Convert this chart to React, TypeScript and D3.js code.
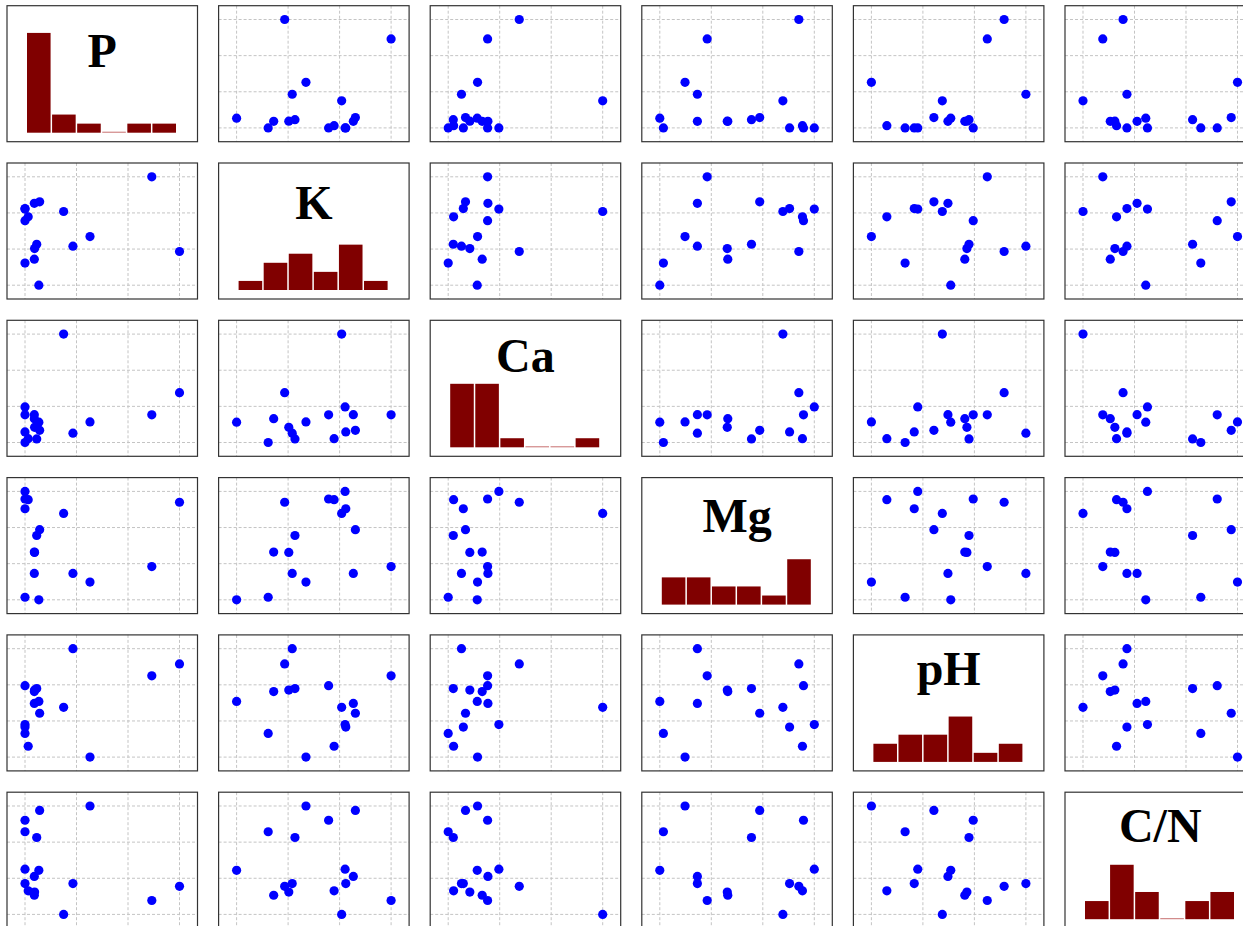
import React, { useEffect, useRef } from 'react';
import * as d3 from 'd3';

// soil samples, one entry per sample (16 samples)
const names = ['P', 'K', 'Ca', 'Mg', 'pH', 'C/N'];
const P = [62.0, 51.6, 28.4, 22.0, 18.5, 9.2, 7.5, 4.0, 7.6, 8.4, 4.0, 5.2, 4.0, 4.0, 7.5, 9.5];
const K = [155, 310, 186, 166, 238, 85, 139, 131, 161, 170, 219, 227, 244, 243, 255, 258];
const Ca = [2464, 1767, 1546, 1192, 4300, 1539, 1648, 900, 1376, 1012, 1767, 1019, 1233, 2015, 1774, 1281];
const Mg = [390, 212, 169, 193, 359, 120, 252, 127, 251, 298, 399, 397, 372, 420, 193, 314];
const pH = [7.29, 7.05, 5.40, 7.60, 6.41, 6.53, 6.73, 5.88, 6.76, 6.79, 6.85, 5.62, 6.01, 6.06, 6.49, 6.29];
const CN = [9.86, 9.02, 14.6, 10.02, 8.2, 10.8, 9.33, 13.08, 9.52, 12.74, 13.76, 9.59, 10.02, 10.87, 10.44, 14.34];

const columns = [P, K, Ca, Mg, pH, CN];
// baseline of the big name in each diagonal panel
const labelY = [61, 56, 52, 54, 50, 50];

const App = () => {
  const ref = useRef<SVGSVGElement>(null);

  useEffect(() => {
    const svg = d3.select(ref.current);
    svg.selectAll('*').remove();

    const n = names.length;
    const colBand = d3.scaleBand<number>().domain(d3.range(n)).range([7, 1255.5]).paddingInner(0.0997);
    const rowBand = d3.scaleBand<number>().domain(d3.range(n)).range([5.7, 928.2]).paddingInner(0.1354);
    const pw = colBand.bandwidth();
    const ph = rowBand.bandwidth();
    const padX = 18;
    const padY = 13.8;

    const extents = columns.map(v => d3.extent(v) as [number, number]);
    const xs = extents.map(e => d3.scaleLinear().domain(e).range([padX, pw - padX]));
    const ys = extents.map(e => d3.scaleLinear().domain(e).range([ph - padY, padY]));
    const ticks = extents.map(([a, b]) => d3.range(4).map(k => a + (k * (b - a)) / 3));

    for (let i = 0; i < n; i++) {
      for (let j = 0; j < n; j++) {
        const g = svg.append('g')
          .attr('transform', `translate(${colBand(j)},${rowBand(i)})`);

        g.append('rect')
          .attr('width', pw)
          .attr('height', ph)
          .attr('fill', '#fff');

        if (i === j) {
          const [lo, hi] = extents[i];
          const thresholds = d3.range(1, 6).map(k => lo + (k * (hi - lo)) / 6);
          const bins = d3.bin().domain([lo, hi]).thresholds(thresholds)(columns[i]);
          const hx = d3.scaleLinear().domain([lo, hi]).range([padX + 2, pw - padX - 2]);
          const hy = d3.scaleLinear().domain([0, 14]).range([ph - 9, 0]);

          g.selectAll('.bar')
            .data(bins)
            .enter()
            .append('rect')
            .attr('x', d => hx(d.x0 as number))
            .attr('width', d => Math.max(0, hx(d.x1 as number) - hx(d.x0 as number) - 1.5))
            .attr('y', d => (d.length ? hy(d.length) : hy(0) - 1))
            .attr('height', d => (d.length ? hy(0) - hy(d.length) : 1))
            .attr('fill', d => (d.length ? '#800000' : '#c87070'));

          g.append('text')
            .attr('x', pw / 2)
            .attr('y', labelY[i])
            .attr('text-anchor', 'middle')
            .style('font-family', "'Liberation Serif', 'Times New Roman', serif")
            .style('font-weight', 'bold')
            .style('font-size', '48px')
            .text(names[i]);
        } else {
          const x = xs[j];
          const y = ys[i];

          g.selectAll('.vgrid')
            .data(ticks[j])
            .enter()
            .append('line')
            .attr('x1', d => x(d))
            .attr('x2', d => x(d))
            .attr('y1', 0)
            .attr('y2', ph)
            .attr('stroke', '#c4c4c4')
            .attr('stroke-width', 1)
            .attr('stroke-dasharray', '3,2');

          g.selectAll('.hgrid')
            .data(ticks[i])
            .enter()
            .append('line')
            .attr('x1', 0)
            .attr('x2', pw)
            .attr('y1', d => y(d))
            .attr('y2', d => y(d))
            .attr('stroke', '#c4c4c4')
            .attr('stroke-width', 1)
            .attr('stroke-dasharray', '3,2');

          g.selectAll('.dot')
            .data(d3.range(columns[i].length))
            .enter()
            .append('circle')
            .attr('cx', k => x(columns[j][k]))
            .attr('cy', k => y(columns[i][k]))
            .attr('r', 4.6)
            .attr('fill', '#0000ff');
        }

        g.append('rect')
          .attr('width', pw)
          .attr('height', ph)
          .attr('fill', 'none')
          .attr('stroke', '#333')
          .attr('stroke-width', 1.2);
      }
    }
  }, []);

  return (
    <svg
      ref={ref}
      width={1243}
      height={926}
      style={{ position: 'absolute', left: 0, top: 0, background: '#fff' }}
    />
  );
};

export default App;
